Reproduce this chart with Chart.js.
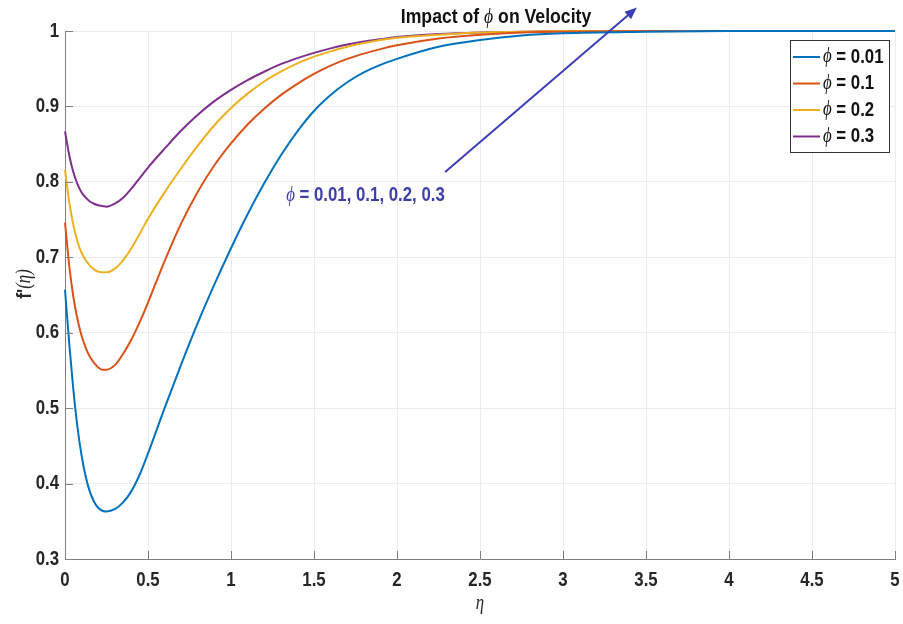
<!DOCTYPE html>
<html>
<head>
<meta charset="utf-8">
<script src="https://cdn.jsdelivr.net/npm/chart.js@4"></script>
<style>
  html, body { margin: 0; padding: 0; background: #fff; }
  #wrap { width: 903px; height: 624px; }
</style>
</head>
<body>
<div id="wrap"><canvas id="chart" width="903" height="624"></canvas></div>
<script>
const eta = [0, 0.025, 0.05, 0.075, 0.1, 0.125, 0.15, 0.175, 0.2, 0.225, 0.25,
  0.3, 0.35, 0.4, 0.45, 0.5,
  0.6, 0.7, 0.8, 0.9, 1.0, 1.1, 1.2, 1.3, 1.4, 1.5,
  1.6, 1.7, 1.8, 1.9, 2.0,
  2.25, 2.5, 2.75, 3.0,
  3.5, 4.0, 4.5, 5.0];

// f'(eta) for each phi
const phi001 = [0.657, 0.587, 0.525, 0.475, 0.437, 0.409, 0.389, 0.376, 0.368, 0.364, 0.363,
  0.366, 0.375, 0.390, 0.412, 0.440,
  0.500, 0.558, 0.613, 0.664, 0.712, 0.757, 0.798, 0.835, 0.867, 0.894,
  0.915, 0.932, 0.945, 0.955, 0.963,
  0.979, 0.988, 0.994, 0.997,
  0.999, 1.0, 1.0, 1.0];
const phi01 = [0.746, 0.690, 0.648, 0.618, 0.596, 0.580, 0.568, 0.560, 0.554, 0.551, 0.551,
  0.557, 0.572, 0.591, 0.614, 0.640,
  0.695, 0.745, 0.787, 0.822, 0.851, 0.876, 0.897, 0.915, 0.930, 0.943,
  0.954, 0.963, 0.970, 0.976, 0.981,
  0.990, 0.995, 0.998, 0.999,
  1.0, 1.0, 1.0, 1.0];
const phi02 = [0.816, 0.774, 0.743, 0.721, 0.706, 0.696, 0.689, 0.684, 0.681, 0.680, 0.680,
  0.685, 0.696, 0.712, 0.731, 0.751,
  0.786, 0.818, 0.848, 0.875, 0.898, 0.917, 0.933, 0.946, 0.957, 0.966,
  0.973, 0.979, 0.984, 0.988, 0.991,
  0.995, 0.998, 0.999, 1.0,
  1.0, 1.0, 1.0, 1.0];
const phi03 = [0.867, 0.836, 0.813, 0.797, 0.786, 0.779, 0.774, 0.771, 0.769, 0.768, 0.767,
  0.771, 0.779, 0.791, 0.805, 0.819,
  0.844, 0.868, 0.889, 0.907, 0.922, 0.935, 0.946, 0.956, 0.964, 0.971,
  0.977, 0.982, 0.986, 0.989, 0.992,
  0.996, 0.998, 0.999, 1.0,
  1.0, 1.0, 1.0, 1.0];

const seriesNames = ["0.01", "0.1", "0.2", "0.3"];
const seriesValues = [phi001, phi01, phi02, phi03];
const seriesColors = ["#0072BD", "#D95319", "#EDB120", "#7E2F8E"];

// annotation: arrow from -> to, in data units, and label position
const arrowFrom = [2.29, 0.813];
const arrowTo = [3.445, 1.031];
const noteAt = [1.81, 0.782];
const noteText = " = 0.01, 0.1, 0.2, 0.3";

const FONT = "'Liberation Sans', Arial, sans-serif";
const PHI_FONT = "'Liberation Serif', 'DejaVu Serif', serif";
const TEXT = "#262626";
const SX = 0.84; // the figure's lettering is horizontally squeezed

const datasets = seriesValues.map((vals, i) => ({
  label: "\u03D5 = " + seriesNames[i],
  data: eta.map((x, j) => ({ x: x, y: vals[j] })),
  borderColor: seriesColors[i],
  backgroundColor: seriesColors[i],
  borderWidth: 2,
  pointRadius: 0,
  cubicInterpolationMode: "monotone",
  clip: 4
}));

// draw a run of [text, font] pieces, squeezed by SX, anchored by align
function runText(ctx, parts, x, y, align, color) {
  ctx.save();
  ctx.textBaseline = "middle";
  ctx.textAlign = "left";
  let w = 0;
  parts.forEach(p => { ctx.font = p[1]; w += ctx.measureText(p[0]).width; });
  ctx.translate(x, y);
  ctx.scale(SX, 1);
  let cx = align === "center" ? -w / 2 : align === "right" ? -w : 0;
  ctx.fillStyle = color;
  parts.forEach(p => {
    ctx.font = p[1];
    ctx.fillText(p[0], cx, 0);
    cx += ctx.measureText(p[0]).width;
  });
  ctx.restore();
  return w * SX;
}

const fmt = (v) => String(Number(v.toFixed(1)));

const extras = {
  id: "extras",
  afterDraw(chart) {
    const ctx = chart.ctx;
    const a = chart.chartArea;
    const xs = chart.scales.x, ys = chart.scales.y;
    const tickFont = "bold 20px " + FONT;
    ctx.save();

    // inward tick marks and tick labels
    ctx.strokeStyle = "#808080";
    ctx.lineWidth = 1;
    ctx.beginPath();
    xs.ticks.forEach(t => {
      const px = Math.round(xs.getPixelForValue(t.value)) + 0.5;
      ctx.moveTo(px, a.bottom);
      ctx.lineTo(px, a.bottom - 8);
    });
    ys.ticks.forEach(t => {
      const py = Math.round(ys.getPixelForValue(t.value)) + 0.5;
      ctx.moveTo(a.left, py);
      ctx.lineTo(a.left + 8, py);
    });
    ctx.stroke();
    xs.ticks.forEach(t => {
      runText(ctx, [[fmt(t.value), tickFont]], xs.getPixelForValue(t.value), a.bottom + 21, "center", TEXT);
    });
    ys.ticks.forEach(t => {
      runText(ctx, [[fmt(t.value), tickFont]], a.left - 6, ys.getPixelForValue(t.value), "right", TEXT);
    });

    // title
    runText(ctx, [["Impact of ", "bold 21px " + FONT], ["\u03D5", "italic 21px " + PHI_FONT],
      [" on Velocity", "bold 21px " + FONT]], 496, 17, "center", "#111");

    // axis titles
    runText(ctx, [["\u03B7", "italic 20px " + PHI_FONT]], (a.left + a.right) / 2, 604, "center", TEXT);
    ctx.save();
    ctx.translate(25, 284);
    ctx.rotate(-Math.PI / 2);
    runText(ctx, [["f'", "bold 21px " + FONT], ["(\u03B7)", "italic 20px " + PHI_FONT]], 0, 0, "center", TEXT);
    ctx.restore();

    // legend box
    const lx = 790, ly = 40, lw = 99, lh = 112;
    ctx.fillStyle = "#fff";
    ctx.fillRect(lx, ly, lw, lh);
    ctx.strokeStyle = "#333";
    ctx.lineWidth = 1;
    ctx.strokeRect(lx + 0.5, ly + 0.5, lw, lh);
    chart.data.datasets.forEach((ds, i) => {
      const y = ly + 17 + i * 26.5;
      ctx.strokeStyle = ds.borderColor;
      ctx.lineWidth = 2;
      ctx.beginPath();
      ctx.moveTo(lx + 3, y);
      ctx.lineTo(lx + 30, y);
      ctx.stroke();
      runText(ctx, [["\u03D5", "italic 20px " + PHI_FONT], [" = " + seriesNames[i], "bold 20px " + FONT]],
        lx + 33, y, "left", "#111");
    });

    // annotation arrow
    const x0 = xs.getPixelForValue(arrowFrom[0]), y0 = ys.getPixelForValue(arrowFrom[1]);
    const x1 = xs.getPixelForValue(arrowTo[0]), y1 = ys.getPixelForValue(arrowTo[1]);
    const ang = Math.atan2(y1 - y0, x1 - x0);
    ctx.strokeStyle = "#3d3db8";
    ctx.fillStyle = "#3d3db8";
    ctx.lineWidth = 2;
    ctx.beginPath();
    ctx.moveTo(x0, y0);
    ctx.lineTo(x1 - 9 * Math.cos(ang), y1 - 9 * Math.sin(ang));
    ctx.stroke();
    ctx.beginPath();
    ctx.moveTo(x1, y1);
    ctx.lineTo(x1 - 12 * Math.cos(ang) + 5 * Math.sin(ang), y1 - 12 * Math.sin(ang) - 5 * Math.cos(ang));
    ctx.lineTo(x1 - 12 * Math.cos(ang) - 5 * Math.sin(ang), y1 - 12 * Math.sin(ang) + 5 * Math.cos(ang));
    ctx.closePath();
    ctx.fill();

    // annotation label
    runText(ctx, [["\u03D5", "italic 20px " + PHI_FONT], [noteText, "bold 20px " + FONT]],
      xs.getPixelForValue(noteAt[0]), ys.getPixelForValue(noteAt[1]), "center", "#3f3fa8");

    ctx.restore();
  }
};

new Chart(document.getElementById("chart"), {
  type: "line",
  data: { datasets: datasets },
  options: {
    responsive: false,
    animation: false,
    layout: { padding: { top: 31, right: 8, left: 0, bottom: 0 } },
    plugins: {
      legend: { display: false },
      tooltip: { enabled: false }
    },
    scales: {
      x: {
        type: "linear",
        min: 0,
        max: 5,
        afterFit: (s) => { s.height = 65; },
        ticks: { stepSize: 0.5, display: false },
        grid: { color: "#ececec", drawTicks: false },
        border: { color: "#808080" }
      },
      y: {
        min: 0.3,
        max: 1,
        afterFit: (s) => { s.width = 65; },
        ticks: { stepSize: 0.1, display: false },
        grid: { color: "#ececec", drawTicks: false },
        border: { color: "#808080" }
      }
    }
  },
  plugins: [extras]
});
</script>
</body>
</html>
